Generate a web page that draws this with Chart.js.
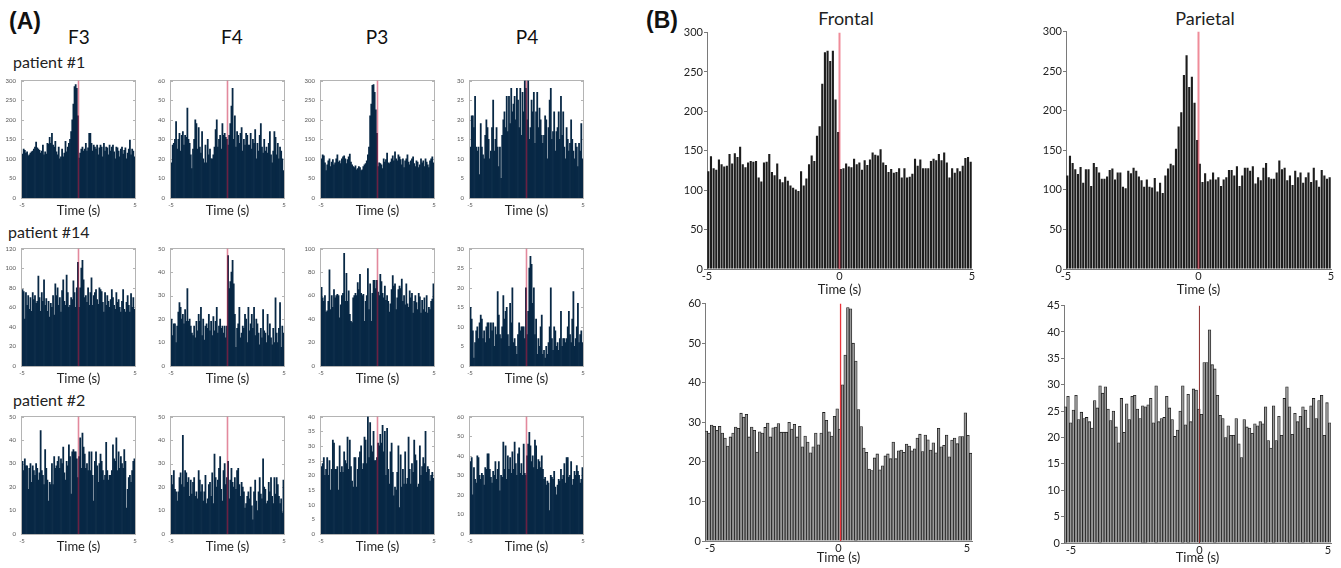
<!DOCTYPE html>
<html lang="en">
<head>
<meta charset="UTF-8">
<title>Peri-event histograms</title>
<script src="https://cdn.jsdelivr.net/npm/chart.js"></script>
<style>
  body { margin: 0; background: #fff; width: 1341px; height: 568px; position: relative; overflow: hidden; font-family: Lato, "Open Sans", sans-serif; color: #111; }
  .lbl { position: absolute; white-space: nowrap; transform: translate(-50%, -50%); }
  .left { transform: translate(0, -50%); }
  .panel { font-family: "Liberation Sans", Arial, sans-serif; font-weight: bold; font-size: 23px; }
  .elec { font-size: 19px; }
  .pat { font-size: 16px; color: #222; }
  .region { font-size: 18px; color: #222; }
  canvas { position: absolute; }
</style>
</head>
<body>
<div class="lbl panel" style="left:25px;top:21px">(A)</div>
<div class="lbl elec" style="left:79px;top:36px">F3</div>
<div class="lbl elec" style="left:232px;top:36px">F4</div>
<div class="lbl elec" style="left:377px;top:36px">P3</div>
<div class="lbl elec" style="left:527px;top:36px">P4</div>
<div class="lbl left pat" style="left:13px;top:61px">patient #1</div>
<div class="lbl left pat" style="left:8px;top:231px">patient #14</div>
<div class="lbl left pat" style="left:13px;top:399px">patient #2</div>
<div class="lbl panel" style="left:662px;top:20px">(B)</div>
<div class="lbl region" style="left:846px;top:18px">Frontal</div>
<div class="lbl region" style="left:1205px;top:18px">Parietal</div>

<script>
// ---- panel A : spike counts per 100 ms bin, -5 s .. +5 s ----
const f3p1 = [112,125,122,115,118,108,110,115,118,120, 125,130,143,128,125,122,115,120,135,110,
  118,112,140,138,155,140,165,135,130,145, 118,110,130,100,105,125,105,115,145,118,
  130,140,150,170,200,240,285,290,280,210, 102,115,125,130,120,125,140,120,128,165,
  165,140,120,135,130,125,135,110,128,135, 130,105,140,120,130,128,110,135,120,130,
  135,118,100,130,128,120,105,125,130,112, 122,128,100,115,125,148,110,125,120,105];
const f4p1 = [18,27,28,30,39,25,30,33,24,32, 34,27,32,31,46,30,28,22,15,25,
  30,40,38,25,36,26,23,34,20,18, 27,18,30,22,25,20,20,22,26,35,
  40,26,30,32,25,38,32,33,31,30, 27,32,38,47,56,30,42,26,34,32,
  28,33,36,24,30,27,33,32,27,27, 33,25,30,28,35,20,28,24,32,38,
  26,23,30,24,26,23,28,34,22,18, 24,34,31,22,28,20,26,24,20,14];
const p3p1 = [100,110,108,90,70,85,95,100,80,92, 98,85,90,100,110,92,95,88,100,105,
  108,100,88,98,105,112,92,85,80,78, 82,72,75,80,78,70,72,80,85,88,
  95,110,130,210,240,288,290,270,225,165, 80,90,88,85,75,100,92,98,115,90,
  88,92,100,108,95,118,100,95,110,105, 98,85,100,78,95,100,110,92,85,95,
  100,105,88,80,95,92,78,85,100,90, 95,80,100,92,85,78,95,100,105,90];
const p4p1 = [13,21,21,18,26,13,12,13,6,19, 13,11,10,16,20,18,15,10,12,18,
  25,12,15,18,13,8,13,5,16,20, 22,18,26,17,26,19,28,22,24,26,
  20,28,25,18,28,16,27,22,30,28, 20,30,15,18,25,22,27,14,22,27,
  18,23,20,16,14,16,21,20,10,18, 25,28,15,17,22,12,17,18,22,15,
  26,16,22,13,10,18,15,12,14,20, 15,12,10,14,13,8,14,12,19,10];

const f3p14 = [78,76,48,75,62,72,58,70,56,75, 68,72,64,66,92,70,56,75,66,88,
  62,69,56,66,50,64,60,72,52,84, 72,80,62,70,55,77,88,66,62,93,
  75,60,62,70,68,87,75,60,80,106, 60,80,100,108,88,70,72,65,80,62,
  75,90,62,72,75,78,68,63,80,78, 76,65,55,75,62,72,66,60,68,78,
  70,62,58,75,65,68,60,55,66,78, 58,55,65,72,62,55,74,60,70,58];
const f4p14 = [20,13,18,18,10,17,23,27,25,20, 22,18,24,19,33,19,20,17,14,13,
  17,12,19,15,22,19,25,13,20,11, 17,18,16,22,15,19,13,21,15,19,
  25,14,17,20,16,17,14,17,12,17, 47,33,36,40,45,35,22,8,16,18,
  25,12,14,17,16,22,20,10,25,15, 18,22,16,25,13,20,18,14,9,16,
  12,24,15,14,10,22,13,18,12,9, 16,10,29,14,10,16,27,8,17,14];
const p3p14 = [67,58,55,60,46,47,55,82,48,60, 50,65,58,60,61,60,41,52,60,62,
  96,55,79,55,64,44,38,37,58,60, 62,60,71,65,78,62,60,61,38,55,
  60,83,48,70,38,62,73,73,66,73, 63,60,78,72,62,58,68,56,60,55,
  46,53,65,77,68,70,48,58,65,68, 66,74,55,60,52,70,53,50,64,58,
  62,45,55,60,54,48,62,59,45,56, 48,58,46,60,45,50,48,55,57,70];
const p4p14 = [15,12,9,2,6,9,10,7,11,13, 12,7,9,6,10,11,11,7,11,9,
  11,5,10,8,19,13,8,7,10,18, 12,14,15,8,5,16,11,20,6,7,
  5,3,8,11,9,10,10,10,7,20, 8,14,25,28,26,16,20,8,12,3,
  7,5,10,13,3,4,2,5,3,6, 10,20,7,4,10,9,5,6,4,7,
  14,5,7,7,6,7,10,14,8,6, 12,19,5,7,10,16,6,8,9,6];

const f3p2 = [31,27,32,29,29,19,28,30,22,29, 27,25,30,28,23,26,44,27,25,21,
  36,28,23,14,22,21,30,21,33,28, 29,31,33,28,32,30,37,26,23,31,
  29,38,33,17,35,36,35,35,32,24, 33,41,28,43,37,34,28,30,27,35,
  27,35,25,14,31,35,29,22,30,34, 31,27,23,25,39,27,23,25,25,27,
  38,32,31,41,27,35,28,33,30,28, 36,31,11,19,24,25,22,27,31,32];
const f4p2 = [25,21,27,19,18,14,18,24,26,21, 42,20,27,26,22,24,16,23,17,22,
  24,16,18,15,27,23,18,21,14,18, 25,13,15,21,22,16,26,13,34,24,
  20,23,28,33,19,14,27,30,21,24, 31,15,23,28,22,20,24,19,27,28,
  21,16,22,20,18,11,13,16,18,15, 20,12,6,18,23,14,10,18,24,17,
  15,32,20,19,13,14,22,18,24,16, 13,24,17,24,21,16,13,15,9,23];
const p3p2 = [23,24,26,20,22,26,20,25,15,22, 32,31,22,22,23,15,30,21,23,21,
  28,25,24,33,22,32,23,18,16,26, 26,16,22,26,28,30,22,24,33,32,
  24,40,26,38,30,28,35,25,25,26, 31,30,34,31,37,28,35,20,36,22,
  17,28,31,21,13,16,15,21,30,9, 27,16,22,17,28,17,19,33,22,17,
  24,21,32,27,25,16,17,30,20,23, 26,24,35,21,23,22,18,20,21,19];
const p4p2 = [37,39,20,34,28,26,40,39,30,28, 31,30,25,34,33,41,41,33,29,26,
  32,30,37,28,33,37,22,30,29,47, 33,45,28,40,33,39,31,42,33,47,
  36,30,41,44,31,36,30,46,31,30, 40,46,52,45,37,40,34,48,45,33,
  38,37,34,40,33,28,29,25,27,26, 12,30,29,28,32,24,20,25,28,27,
  33,28,30,36,26,39,39,29,30,37, 25,28,32,30,35,32,30,26,28,34];

// ---- panel B : pooled histograms ----
const frontalTop = [124,143,128,126,139,133,130,131,146,134, 147,142,155,133,129,135,137,136,137,116,
  111,135,136,146,123,119,134,114,110,117, 112,106,103,101,99,124,106,115,133,144,
  137,169,181,235,275,277,264,277,215,174, 127,128,134,130,129,140,133,135,126,138,
  132,139,148,145,144,152,135,132,123,127, 122,123,128,116,128,116,117,121,140,131,
  139,128,128,128,137,140,138,146,138,148, 135,116,128,122,128,124,131,141,142,136];
const parietalTop = [118,143,134,126,120,129,109,126,126,105, 134,129,122,114,114,117,125,127,113,122,
  122,104,102,124,121,128,124,117,112,104, 113,104,103,115,98,109,96,118,127,133,
  131,152,180,198,245,270,230,243,210,163, 133,110,121,111,113,122,113,116,105,113,
  116,125,125,118,130,105,118,128,128,124, 130,108,116,112,128,134,116,114,114,122,
  137,126,128,112,118,106,124,116,122,109, 116,122,110,128,112,104,125,118,114,116];
const frontalBottom = [27.8,27.3,29.3,29,28,29,27.3,26,24,26.3, 27.3,28.8,28.5,32.3,31.3,32,26.3,28.8,28,22.5,
  27.6,27.3,28.7,29.8,26.3,28.6,28.8,29.7,27.5,27.5, 27.5,30,28.3,29.5,26.3,29,23.8,26.5,25,22.3,
  23.8,27.3,24.3,27.3,32.5,30.5,27.6,26.5,31.5,33.4, 28.3,39.5,47,59,58.7,50,45.5,33.2,28.9,23.5,
  22.4,18.2,17.8,21,22,18,19,21.5,22,20.8, 25,20.8,22.8,23,22.4,24.5,24,22.8,23.3,26,
  27,22.6,26.8,25.6,23,24.8,22.3,28.5,23.8,24.2, 26.8,21.3,25.5,26,24.6,26.4,26.4,32.4,26.7,22.2];
const parietalBottom = [25.8,27.8,22.8,25.2,28,23.4,24.8,23.6,23.8,23, 21.8,27,25.6,29.8,28.4,29.6,25.4,23.2,25,22,
  19,27.4,21,26.4,23.4,27.8,28,25.4,23.6,26, 25.8,26.2,27.4,22.8,29.8,23,23.6,23.8,27.8,25.6,
  23.4,20.2,21.4,25,29.8,22.4,28.2,23,29.2,29, 25.4,24.4,34.2,34.2,40.4,33.8,33,28,24.2,23.6,
  20,22.2,20.4,20.4,23.6,18.8,16.2,23.4,22,21.8, 20.8,22.6,22.2,23,22.6,25.8,19.4,18,26,19.4,
  24,20.4,27.4,29.6,25.8,20.6,24.6,23,24,25.8, 25.2,21.8,26,27.4,23.6,27,28,20.4,26.6,22.8];

const ticksA = [-5, 5];
const ticksB = [-5, 0, 5];

// centre of each time bin between lo and hi
function binCenters(lo, hi, n) {
  const w = (hi - lo) / n;
  return Array.from({ length: n }, (_, i) => lo + w * (i + 0.5));
}

// box drawn round the small plots of panel A, with little inward ticks
const framePlugin = {
  id: 'frame',
  beforeDatasetsDraw(chart, args, opts) {
    if (!opts.on) return;
    const { ctx, chartArea: a, scales } = chart;
    ctx.save();
    ctx.strokeStyle = opts.color;
    ctx.lineWidth = 1;
    ctx.strokeRect(Math.round(a.left) - 0.5, Math.round(a.top) - 0.5, Math.round(a.width) + 1, Math.round(a.height) + 1);
    ctx.beginPath();
    scales.y.ticks.forEach(t => {
      const y = Math.round(scales.y.getPixelForValue(t.value)) + 0.5;
      ctx.moveTo(a.left, y); ctx.lineTo(a.left + 2, y);
      ctx.moveTo(a.right - 2, y); ctx.lineTo(a.right, y);
    });
    ctx.stroke();
    ctx.restore();
  }
};

function makeHist(box, values, c) {
  const pad = c.pad;
  const cv = document.createElement('canvas');
  cv.width = box.w + pad.l + pad.r;
  cv.height = box.h + pad.t + pad.b;
  cv.style.left = (box.x - pad.l) + 'px';
  cv.style.top = (box.y - pad.t) + 'px';
  document.body.appendChild(cv);
  const xs = binCenters(c.xMin, c.xMax, values.length);
  const small = c.small;
  new Chart(cv, {
    type: 'bar',
    data: {
      datasets: [
        {
          type: 'line',
          data: [{ x: c.eventX, y: 0 }, { x: c.eventX, y: c.yMax }],
          borderColor: c.eventColor,
          borderWidth: c.eventWidth,
          pointRadius: 0,
          order: 0
        },
        {
          data: values.map((v, i) => ({ x: xs[i], y: v })),
          backgroundColor: c.fill,
          borderColor: c.edge || 'transparent',
          borderWidth: c.edgeWidth || 0,
          barPercentage: c.barPct,
          categoryPercentage: 1,
          order: 1
        }
      ]
    },
    options: {
      responsive: false,
      animation: false,
      devicePixelRatio: 1,
      layout: { padding: { top: pad.t, right: pad.r, left: 0, bottom: 0 } },
      plugins: {
        legend: { display: false },
        tooltip: { enabled: false },
        frame: { on: small, color: '#b4b4b4' }
      },
      scales: {
        x: {
          type: 'linear',
          min: c.xMin,
          max: c.xMax,
          offset: false,
          afterFit: s => { s.height = pad.b; },
          afterBuildTicks: s => { s.ticks = c.xTicks.map(v => ({ value: v })); },
          grid: { display: !small, drawOnChartArea: false, drawTicks: false, offset: false },
          border: { display: !small, color: '#7a7a7a' },
          ticks: {
            font: { family: 'Lato', size: small ? 6 : 11 },
            color: small ? '#555' : '#222',
            padding: small ? 3 : 1,
            maxRotation: 0,
            autoSkip: false
          },
          title: {
            display: true,
            text: 'Time (s)',
            font: { family: 'Lato', size: 13 },
            color: '#222',
            padding: { top: 0, bottom: 0 }
          }
        },
        y: {
          min: 0,
          max: c.yMax,
          afterFit: s => { s.width = pad.l; },
          grid: { display: !small, drawOnChartArea: false, tickLength: 3, color: '#7a7a7a' },
          border: { display: !small, color: '#7a7a7a' },
          ticks: {
            stepSize: c.yStep,
            font: { family: 'Lato', size: small ? 6 : 11 },
            color: small ? '#555' : '#222',
            padding: small ? 3 : 1
          }
        }
      }
    },
    plugins: [framePlugin]
  });
}

// panel A grid
const colX = [22, 171, 321, 470];
const rowY = [79, 247, 415];
const smallCfg = {
  small: true, xMin: -5, xMax: 5, xTicks: ticksA, eventX: 0,
  eventColor: 'rgba(200,20,60,0.5)', eventWidth: 1.6,
  fill: '#082845', barPct: 1,
  pad: { l: 24, t: 5, r: 6, b: 21 }
};
const gridA = [
  [[f3p1, 300, 50], [f4p1, 60, 10], [p3p1, 300, 50], [p4p1, 30, 5]],
  [[f3p14, 120, 20], [f4p14, 50, 10], [p3p14, 100, 20], [p4p14, 30, 5]],
  [[f3p2, 50, 10], [f4p2, 50, 10], [p3p2, 40, 5], [p4p2, 60, 10]]
];
gridA.forEach((row, r) => row.forEach(([vals, yMax, yStep], k) => {
  makeHist({ x: colX[k], y: rowY[r], w: 113, h: 119 }, vals, Object.assign({}, smallCfg, { yMax, yStep }));
}));

// panel B
const bigTop = {
  small: false, xTicks: ticksB, eventX: 0, yMax: 300, yStep: 50,
  eventColor: 'rgba(225,45,70,0.55)', eventWidth: 2,
  fill: '#1d1d1d', barPct: 0.8,
  pad: { l: 34, t: 6, r: 8, b: 29 }
};
makeHist({ x: 707, y: 31, w: 265, h: 238 }, frontalTop, Object.assign({}, bigTop, { xMin: -5, xMax: 5 }));
makeHist({ x: 1066, y: 30, w: 265, h: 239 }, parietalTop, Object.assign({}, bigTop, { xMin: -5, xMax: 5 }));

const bigBottom = {
  small: false, xTicks: ticksB, fill: '#9a9a9a', edge: '#1a1a1a', edgeWidth: 0.8, barPct: 1
};
makeHist({ x: 705, y: 302, w: 267, h: 239 }, frontalBottom, Object.assign({}, bigBottom, {
  xMin: -5.2, xMax: 5.2, eventX: 0.08, yMax: 60, yStep: 10,
  eventColor: '#e8333a', eventWidth: 1.3, pad: { l: 34, t: 6, r: 8, b: 25 }
}));
makeHist({ x: 1064, y: 304, w: 267, h: 239 }, parietalBottom, Object.assign({}, bigBottom, {
  xMin: -5.27, xMax: 5.12, eventX: 0, yMax: 45, yStep: 5,
  eventColor: '#8a2a2a', eventWidth: 1, pad: { l: 34, t: 6, r: 8, b: 23 }
}));
</script>
</body>
</html>
